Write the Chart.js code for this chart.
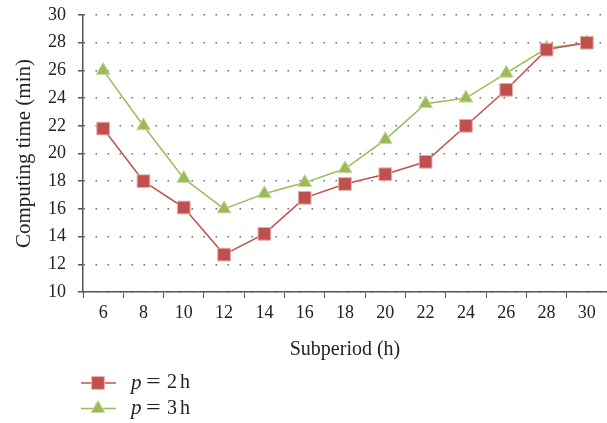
<!DOCTYPE html>
<html>
<head>
<meta charset="utf-8">
<script src="https://cdn.jsdelivr.net/npm/chart.js@4/dist/chart.umd.min.js"></script>
<style>
  html, body { margin: 0; padding: 0; background: #fff; }
  #wrap { width: 607px; height: 423px; position: relative; }
</style>
</head>
<body>
<div id="wrap"><canvas id="chart"></canvas></div>
<script>
// ===== Data =====
const subperiods = ['6', '8', '10', '12', '14', '16', '18', '20', '22', '24', '26', '28', '30'];
const timeP2 = [21.8, 18.0, 16.1, 12.7, 14.2, 16.8, 17.8, 18.5, 19.4, 22.0, 24.6, 27.5, 28.0];
const timeP3 = [26.0, 22.0, 18.2, 16.0, 17.1, 17.9, 18.9, 21.0, 23.6, 24.0, 25.8, 27.6, 28.0];
const seriesValues = ['2', '3'];

const RED = '#C0504D';
const GREEN = '#9BBB59';
const FONT = '"Liberation Serif", "DejaVu Serif", serif';

// legend under the axis: short line + marker + "p = x h"
const lineLegend = {
  id: 'lineLegend',
  afterDraw(chart) {
    const ctx = chart.ctx;
    chart.data.datasets.forEach((ds, i) => {
      const y = 383 + i * 25.5;
      ctx.save();
      ctx.strokeStyle = ds.borderColor;
      ctx.lineWidth = 1.5;
      ctx.beginPath();
      ctx.moveTo(81, y);
      ctx.lineTo(116, y);
      ctx.stroke();
      ctx.fillStyle = ds.pointBackgroundColor;
      ctx.strokeStyle = ds.pointBorderColor;
      ctx.lineWidth = 1;
      Chart.helpers.drawPoint(ctx, { pointStyle: ds.pointStyle, radius: ds.pointRadius, borderWidth: 1 }, 98, y);

      ctx.fillStyle = '#222';
      ctx.textBaseline = 'middle';
      ctx.font = 'italic 21px ' + FONT;
      ctx.fillText('p', 131, y);
      ctx.font = '20px ' + FONT;
      ctx.save();
      ctx.scale(1.3, 1);
      ctx.fillText('=', 146 / 1.3, y);
      ctx.restore();
      ctx.fillText(seriesValues[i], 167, y);
      ctx.fillText('h', 180, y);
      ctx.restore();
    });
  }
};

new Chart(document.getElementById('chart'), {
  type: 'line',
  data: {
    labels: subperiods,
    datasets: [
      {
        label: 'p = 2 h',
        data: timeP2,
        borderColor: RED,
        backgroundColor: RED,
        pointBackgroundColor: RED,
        pointBorderColor: '#E6B0AF',
        pointBorderWidth: 1,
        pointStyle: 'rect',
        pointRadius: 9,
        borderWidth: 1.5,
        tension: 0,
        clip: false
      },
      {
        label: 'p = 3 h',
        data: timeP3,
        borderColor: GREEN,
        backgroundColor: GREEN,
        pointBackgroundColor: GREEN,
        pointBorderColor: '#C9DAA8',
        pointBorderWidth: 1,
        pointStyle: 'triangle',
        pointRadius: 8,
        borderWidth: 1.5,
        tension: 0,
        clip: false
      }
    ]
  },
  options: {
    responsive: true,
    maintainAspectRatio: false,
    animation: false,
    layout: { autoPadding: false, padding: { top: 15, right: 0, bottom: 61, left: 5 } },
    plugins: {
      legend: { display: false },
      tooltip: { enabled: false }
    },
    scales: {
      x: {
        offset: true,
        afterFit(scale) { scale.height = 70; scale.paddingLeft = 0; scale.paddingRight = 0; },
        grid: {
          offset: true,
          drawOnChartArea: false,
          drawTicks: true,
          tickLength: 6,
          color: '#555'
        },
        border: { color: '#555', width: 1.5 },
        ticks: { color: '#222', font: { family: FONT, size: 18 }, padding: 4, maxRotation: 0, autoSkip: false },
        title: { display: true, text: 'Subperiod (h)', color: '#222', font: { family: FONT, size: 20 }, padding: { top: 9, bottom: 0 } }
      },
      y: {
        min: 10,
        max: 30,
        afterFit(scale) { scale.width = 78; scale.paddingTop = 0; scale.paddingBottom = 0; },
        ticks: { stepSize: 2, color: '#222', font: { family: FONT, size: 18 }, padding: 12 },
        grid: {
          color: '#666',
          lineWidth: 1.5,
          drawTicks: true,
          tickLength: 5,
          tickColor: '#555',
          tickWidth: 1.5,
          tickBorderDash: []
        },
        border: { color: '#555', width: 1.5, dash: [1.5, 10.5] },
        title: { display: true, text: 'Computing time (min)', color: '#222', font: { family: FONT, size: 21 }, padding: { top: 7, bottom: 4 } }
      }
    }
  },
  plugins: [lineLegend]
});
</script>
</body>
</html>
